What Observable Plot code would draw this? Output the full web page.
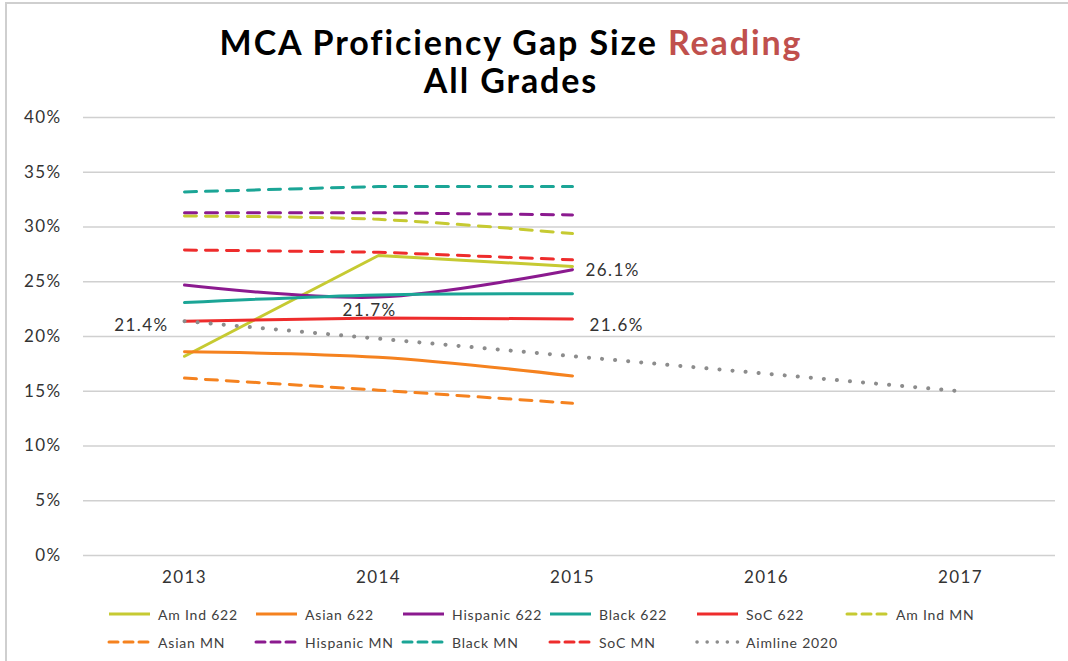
<!DOCTYPE html>
<html>
<head>
<meta charset="utf-8">
<script src="https://cdn.jsdelivr.net/npm/d3@7"></script>
<script src="https://cdn.jsdelivr.net/npm/@observablehq/plot@0.6"></script>
<style>
  html, body { margin: 0; padding: 0; background: #fff; }
  #frame { position: relative; width: 1068px; height: 661px; overflow: hidden; background: #fff; font-family: Lato, "Open Sans", sans-serif; }
  #borderTop { position: absolute; left: 5px; top: 2px; width: 1063px; height: 2px; background: #cfcfcf; }
  #borderLeft { position: absolute; left: 5px; top: 2px; width: 2px; height: 659px; background: #cfcfcf; }
  .title { position: absolute; left: 161px; width: 700px; text-align: center; font-weight: bold; font-size: 34px; letter-spacing: 1.9px; color: #000; line-height: 1; }
  #chart { position: absolute; left: 0; top: 100px; }
  #chart svg text { letter-spacing: 1.4px; }
  #legend { position: absolute; left: 0; top: 600px; width: 1068px; height: 61px; }
  .item { position: absolute; height: 16px; display: flex; align-items: center; font-size: 14px; letter-spacing: 0.8px; color: #404040; white-space: nowrap; }
  .item svg { margin-right: 5px; }
</style>
</head>
<body>
<div id="frame">
  <div id="borderTop"></div>
  <div id="borderLeft"></div>
  <div class="title" style="top:25px">MCA Proficiency Gap Size <span style="color:#c0504d">Reading</span></div>
  <div class="title" style="top:63px">All Grades</div>
  <div id="chart"></div>
  <div id="legend"></div>
</div>
<script>
// ---- data ----
const years = [2013, 2014, 2015, 2016, 2017];
const yTicks = [0, 5, 10, 15, 20, 25, 30, 35, 40];

const seriesNames = ["Am Ind 622", "Asian 622", "Hispanic 622", "Black 622", "SoC 622",
  "Am Ind MN", "Asian MN", "Hispanic MN", "Black MN", "SoC MN", "Aimline 2020"];
const seriesColors = ["#c6ca32", "#f5821f", "#8b1a8f", "#1ba596", "#ee2c2c",
  "#c6ca32", "#f5821f", "#8b1a8f", "#1ba596", "#ee2c2c", "#8c8c8c"];
const seriesKinds = ["solid", "solid", "solid", "solid", "solid",
  "dash", "dash", "dash", "dash", "dash", "dot"];

const amInd622   = [18.2, 27.4, 26.4];
const asian622   = [18.6, 18.1, 16.4];
const hispanic622 = [24.7, 23.6, 26.1];
const black622   = [23.1, 23.8, 23.9];
const soc622     = [21.4, 21.7, 21.6];
const amIndMN    = [31.0, 30.7, 29.4];
const asianMN    = [16.2, 15.1, 13.9];
const hispanicMN = [31.3, 31.3, 31.1];
const blackMN    = [33.2, 33.7, 33.7];
const socMN      = [27.9, 27.7, 27.0];
const aimline    = [21.4, 19.8, 18.2, 16.6, 15.0];

const seriesValues = [amInd622, asian622, hispanic622, black622, soc622,
  amIndMN, asianMN, hispanicMN, blackMN, socMN, aimline];

// labels: series, year, value text
const labelSeries = ["SoC 622", "SoC 622", "Hispanic 622", "SoC 622"];
const labelYears  = [2013, 2014, 2015, 2015];
const labelTexts  = ["21.4%", "21.7%", "26.1%", "21.6%"];

// ---- build tables ----
const rows = [];
seriesNames.forEach((s, k) => {
  seriesValues[k].forEach((v, i) => rows.push({series: s, year: years[i], value: v}));
});
const labelRows = labelSeries.map((s, i) => {
  const r = rows.find(d => d.series === s && d.year === labelYears[i]);
  return {year: r.year, value: r.value, text: labelTexts[i]};
});

const dashOf = kind => kind === "dash" ? "12,9" : kind === "dot" ? "0.1,13" : null;
const smooth = new Set(["Asian 622", "Hispanic 622", "Black 622", "Asian MN", "Am Ind MN"]);

const lineMarks = seriesNames.map((s, k) => Plot.line(rows.filter(d => d.series === s), {
  x: "year", y: "value",
  stroke: seriesColors[k],
  strokeWidth: seriesKinds[k] === "dot" ? 4 : 3,
  strokeDasharray: dashOf(seriesKinds[k]),
  strokeLinecap: "round",
  curve: smooth.has(s) ? "catmull-rom" : "linear"
}));

const chart = Plot.plot({
  width: 1068,
  height: 500,
  marginLeft: 86,
  marginRight: 10,
  marginTop: 17,
  marginBottom: 45,
  style: {fontFamily: "Lato, 'Open Sans', sans-serif", background: "transparent"},
  x: {type: "point", domain: years, padding: 0.5},
  y: {domain: [0, 40]},
  marks: [
    Plot.ruleY(yTicks, {stroke: "#d0d0d0", strokeWidth: 1.5, insetLeft: -3, insetRight: 3}),
    Plot.axisY({ticks: yTicks, tickFormat: d => d + "%", tickSize: 0, tickPadding: 25, fontSize: 17, label: null, fill: "#333"}),
    Plot.axisX({tickSize: 0, tickPadding: 15, fontSize: 17, label: null, tickFormat: d => String(d), fill: "#333"}),
    ...lineMarks,
    Plot.text([labelRows[0]], {x: "year", y: "value", text: "text", textAnchor: "end", dx: -16, dy: 4, fontSize: 17, fill: "#333"}),
    Plot.text([labelRows[1]], {x: "year", y: "value", text: "text", textAnchor: "middle", dx: -9, dy: -7, fontSize: 17, fill: "#333"}),
    Plot.text([labelRows[2]], {x: "year", y: "value", text: "text", textAnchor: "start", dx: 13, dy: 1, fontSize: 17, fill: "#333"}),
    Plot.text([labelRows[3]], {x: "year", y: "value", text: "text", textAnchor: "start", dx: 17, dy: 7, fontSize: 17, fill: "#333"})
  ]
});
document.getElementById("chart").appendChild(chart);

// ---- legend ----
const legend = document.getElementById("legend");
const colX = [107, 254, 401, 548, 695, 845];
const rowY = [6, 34];
seriesNames.forEach((s, k) => {
  const r = k < 6 ? 0 : 1;
  const c = k < 6 ? k : k - 6;
  const item = document.createElement("div");
  item.className = "item";
  item.style.left = colX[c] + "px";
  item.style.top = rowY[r] + "px";
  const kind = seriesKinds[k];
  const dash = kind === "dash" ? "9,6" : kind === "dot" ? "0.1,10" : "none";
  const w = kind === "dot" ? 3.5 : 3;
  item.innerHTML = `<svg width="46" height="16"><line x1="2" x2="43" y1="8" y2="8" stroke="${seriesColors[k]}" stroke-width="${w}" stroke-dasharray="${dash}" stroke-linecap="${kind === 'solid' ? 'butt' : 'round'}"/></svg><span>${s}</span>`;
  legend.appendChild(item);
});
</script>
</body>
</html>
